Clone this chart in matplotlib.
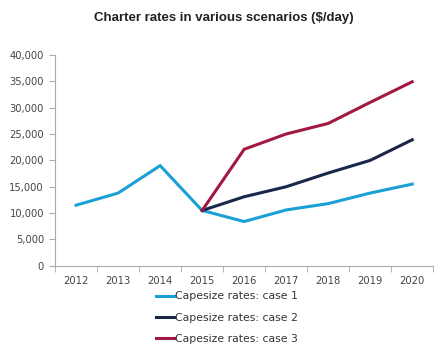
import matplotlib
matplotlib.use('Agg')
import matplotlib.pyplot as plt
from matplotlib.ticker import FuncFormatter

years = ['2012', '2013', '2014', '2015', '2016', '2017', '2018', '2019', '2020']
case1 = [11500, 13800, 19000, 10500, 8400, 10600, 11800, 13800, 15500]
case2 = [None, None, None, 10500, 13100, 15000, 17600, 20000, 23900]
case3 = [None, None, None, 10500, 22100, 25000, 27000, 31000, 34900]

c1, c2, c3 = '#1aa0d5', '#19264a', '#a11840'

def pts(vals):
    xs = [i for i, v in enumerate(vals) if v is not None]
    return xs, [vals[i] for i in xs]

fig = plt.figure(figsize=(4.48, 3.54), dpi=100)
ax = fig.add_axes([0.123, 0.249, 0.844, 0.596])

for vals, col, lab in [(case1, c1, 'Capesize rates: case 1'),
                       (case2, c2, 'Capesize rates: case 2'),
                       (case3, c3, 'Capesize rates: case 3')]:
    xs, ys = pts(vals)
    ax.plot(xs, ys, color=col, lw=2.2, label=lab, solid_joinstyle='miter')

ax.set_xlim(-0.5, len(years) - 0.5)
ax.set_ylim(0, 40000)
ax.set_yticks(range(0, 40001, 5000))
ax.yaxis.set_major_formatter(FuncFormatter(lambda v, p: f'{int(v):,}'))
ax.set_xticks(range(len(years)))
ax.set_xticklabels(years)
ax.set_xticks([i - 0.5 for i in range(len(years) + 1)], minor=True)
ax.tick_params(axis='x', which='major', length=0, pad=7)
ax.tick_params(axis='x', which='minor', length=4, color='#aaaaaa')
ax.tick_params(axis='y', length=4, color='#aaaaaa', pad=4)
ax.tick_params(labelsize=7.2, labelcolor='#444444')

for s in ['top', 'right']:
    ax.spines[s].set_visible(False)
for s in ['left', 'bottom']:
    ax.spines[s].set_color('#aaaaaa')
    ax.spines[s].set_linewidth(0.8)

fig.text(0.5, 0.948, 'Charter rates in various scenarios ($/day)',
         ha='center', va='center', fontsize=9.5, fontweight='bold',
         family='Liberation Sans', color='#222222')

ax.legend(loc='upper center', bbox_to_anchor=(0.455, -0.075), frameon=False,
          fontsize=7.8, handlelength=1.6, handletextpad=0.1, labelspacing=1.05,
          labelcolor='#333333')

fig.savefig('out.png', dpi=100)
